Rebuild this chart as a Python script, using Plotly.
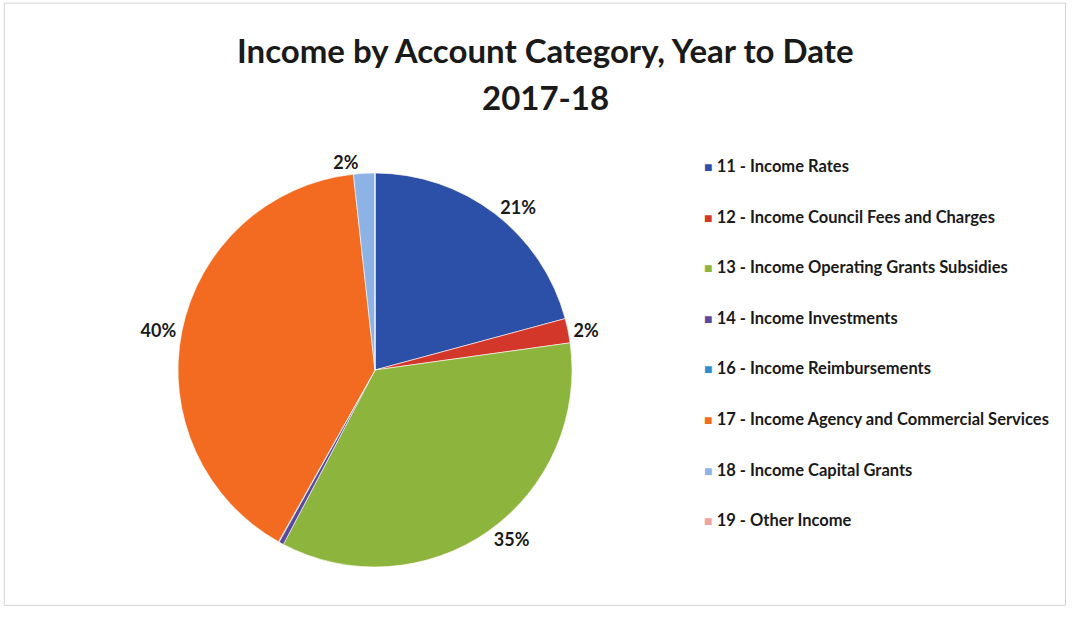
import plotly.graph_objects as go

# Income share by account category (percent of year-to-date total)
categories = [
    "11 - Income Rates",
    "12 - Income Council Fees and Charges",
    "13 - Income Operating Grants Subsidies",
    "14 - Income Investments",
    "16 - Income Reimbursements",
    "17 - Income Agency and Commercial Services",
    "18 - Income Capital Grants",
    "19 - Other Income",
]
values = [20.8, 2.0, 34.9, 0.4, 0.05, 40.1, 1.75, 0.0]
colors = ["#2C50A8", "#D2372A", "#8DB43C", "#5B4A9C", "#2E8FD0", "#F26B21", "#8DB3E6", "#F2A1A0"]

title_lines = ["Income by Account Category, Year to Date", "2017-18"]

# Only slices of at least 1% carry a percentage label
min_label = 1.0
text_pos = ["outside" if v >= min_label else "none" for v in values]

FONT = "Lato"
INK = "#1a1a1a"

fig = go.Figure(
    go.Pie(
        labels=categories,
        values=values,
        marker=dict(colors=colors, line=dict(color="white", width=0.6)),
        sort=False,
        direction="clockwise",
        rotation=0,
        textinfo="percent",
        texttemplate="<b>%{percent:.0%}</b>",
        textposition=text_pos,
        outsidetextfont=dict(family=FONT, size=18, color=INK),
        showlegend=False,
        domain=dict(x=[0.1659, 0.5331], y=[0.084, 0.7205]),
        hoverinfo="label+percent",
    )
)

annotations = []

# Two-line bold title
for i, (line, ypix) in enumerate(zip(title_lines, [50, 97])):
    annotations.append(
        dict(
            x=0.508,
            y=1 - ypix / 619,
            xref="paper",
            yref="paper",
            xanchor="center",
            yanchor="middle",
            showarrow=False,
            text=f"<b>{line}</b>",
            font=dict(family=FONT, size=33, color=INK),
        )
    )

# Legend drawn as a column of colour keys with bold labels
legend_x = 0.654
legend_top = 1 - 166 / 619
legend_step = 50.6 / 619
for i, (name, col) in enumerate(zip(categories, colors)):
    annotations.append(
        dict(
            x=legend_x,
            y=legend_top - i * legend_step,
            xref="paper",
            yref="paper",
            xanchor="left",
            yanchor="middle",
            showarrow=False,
            text=f"<span style='color:{col};font-size:14px'>■</span> <b>{name}</b>",
            font=dict(family=FONT, size=16.5, color=INK),
        )
    )

fig.update_layout(
    width=1073,
    height=619,
    margin=dict(l=0, r=0, t=0, b=0),
    paper_bgcolor="white",
    plot_bgcolor="white",
    annotations=annotations,
    shapes=[
        dict(
            type="rect",
            xref="paper",
            yref="paper",
            x0=0.004,
            x1=0.993,
            y0=0.022,
            y1=0.995,
            line=dict(color="#d4d4d4", width=1),
        )
    ],
)

fig.write_html("out.html")
